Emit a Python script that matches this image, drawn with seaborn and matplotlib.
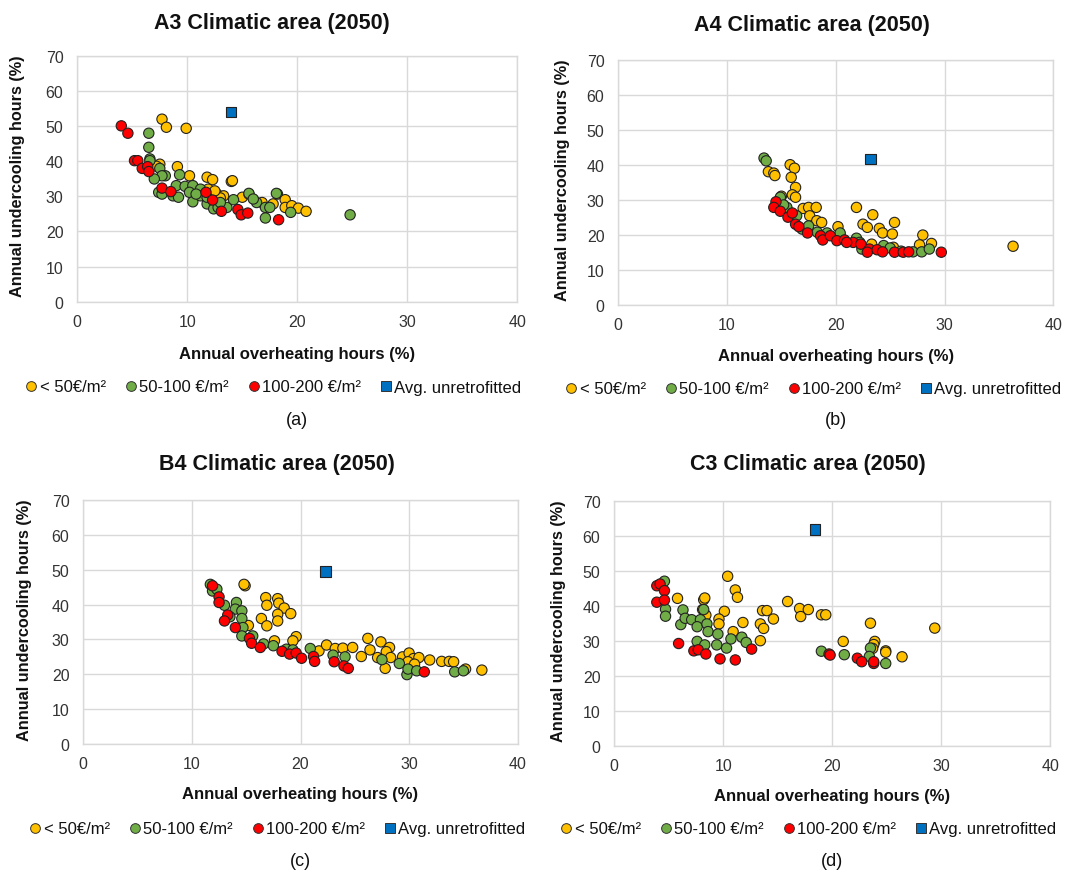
import numpy as np
import pandas as pd
import matplotlib
matplotlib.use('Agg')
import matplotlib.pyplot as plt
import seaborn as sns
from matplotlib.lines import Line2D

# ---- data: (overheating %, undercooling %) ----
A3_LOW = [(7.7, 51.9), (8.1, 49.6), (9.9, 49.3), (7.5, 39.1), (9.1, 38.4), (10.2, 35.8), (11.8, 35.4),
          (12.3, 34.7), (14.0, 34.2), (14.1, 34.4), (15.0, 29.7), (15.6, 30.6), (18.2, 30.6), (18.9, 29.0),
          (16.8, 28.2), (17.8, 27.8), (18.9, 26.8), (19.5, 27.3), (20.1, 26.6), (20.8, 25.7), (12.7, 30.6),
          (13.3, 30.1), (11.9, 32.0), (13.0, 29.5), (7.2, 38.5), (12.5, 31.5)]
A3_MID = [(6.5, 47.9), (6.5, 43.9), (6.6, 40.6), (6.6, 40.1), (7.5, 37.9), (8.0, 35.8), (7.7, 35.8),
          (7.0, 34.9), (9.3, 36.1), (7.4, 31.1), (7.7, 30.6), (9.0, 33.0), (9.8, 32.8), (10.5, 33.0),
          (10.2, 31.1), (11.2, 32.0), (8.7, 30.1), (9.2, 29.7), (10.5, 28.4), (11.2, 30.1), (11.8, 27.8),
          (12.4, 26.4), (12.8, 26.8), (13.6, 26.8), (14.2, 29.0), (15.6, 30.8), (16.3, 28.2), (16.0, 29.2),
          (17.1, 26.8), (17.5, 26.8), (17.1, 23.8), (18.1, 30.8), (19.4, 25.4), (24.8, 24.7), (11.8, 29.7),
          (10.8, 30.6), (13.0, 28.2)]
A3_HIGH = [(4.0, 50.0), (4.6, 47.9), (5.2, 40.1), (5.5, 40.1), (5.9, 37.9), (6.4, 38.4), (6.5, 37.0),
           (7.7, 32.3), (8.5, 31.3), (11.7, 31.1), (12.3, 28.9), (13.1, 25.7), (14.6, 26.2), (14.9, 24.7),
           (15.5, 25.2), (18.3, 23.3)]
A3_AVG = [(14.0, 54.0)]

A4_LOW = [(13.8, 38.0), (14.3, 37.6), (14.4, 36.9), (15.8, 40.0), (16.2, 39.0), (15.9, 36.4), (16.3, 33.5),
          (16.0, 31.4), (16.3, 30.7), (15.0, 31.0), (17.0, 27.5), (17.5, 27.8), (18.2, 27.8), (17.6, 25.4),
          (18.25, 24.0), (18.7, 23.5), (20.2, 22.3), (21.9, 27.8), (23.4, 25.7), (22.5, 23.0), (22.9, 22.1),
          (24.0, 21.8), (24.3, 20.5), (25.2, 20.2), (25.4, 23.5), (28.0, 19.9), (27.7, 17.1), (28.8, 17.5),
          (36.3, 16.7), (20.4, 19.7), (23.3, 17.3), (25.3, 16.4)]
A4_MID = [(13.4, 41.9), (13.6, 41.1), (14.9, 30.7), (15.5, 27.8), (16.4, 25.4), (16.9, 21.6), (18.3, 20.7),
          (19.2, 20.5), (20.4, 20.5), (21.9, 19.0), (22.4, 15.9), (24.4, 16.9), (27.1, 15.1), (27.9, 15.1),
          (28.6, 15.9), (22.2, 17.8), (15.2, 28.5), (17.5, 22.5), (25.0, 16.2), (26.0, 15.3)]
A4_HIGH = [(14.5, 29.4), (14.3, 27.8), (14.9, 26.7), (15.6, 25.0), (16.0, 26.2), (16.3, 23.0), (16.6, 22.3),
           (17.4, 20.5), (18.6, 19.7), (18.8, 18.5), (19.5, 19.7), (20.1, 18.3), (20.8, 18.5), (21.6, 17.8),
           (22.3, 17.3), (23.1, 15.9), (22.9, 15.0), (23.8, 15.7), (24.3, 15.1), (25.4, 15.0), (26.2, 15.0),
           (26.7, 15.1), (29.7, 15.0), (21.0, 17.8)]
A4_AVG = [(23.2, 41.6)]

B4_LOW = [(14.9, 45.4), (14.8, 45.8), (16.8, 42.0), (16.9, 39.8), (16.4, 36.0), (16.9, 33.9), (17.9, 41.7),
          (18.0, 40.4), (18.5, 39.0), (19.1, 37.4), (17.9, 37.2), (17.9, 35.3), (19.6, 30.8), (19.3, 29.6),
          (17.6, 29.6), (21.7, 26.7), (22.4, 28.4), (23.2, 27.4), (23.9, 27.5), (24.8, 27.7), (25.6, 25.1),
          (26.2, 30.3), (26.4, 27.0), (27.4, 29.3), (28.2, 27.7), (27.9, 26.5), (28.3, 24.8), (27.8, 21.7),
          (29.4, 25.0), (30.0, 26.1), (30.4, 24.5), (30.9, 24.8), (31.9, 24.1), (33.0, 23.7), (33.7, 23.7),
          (34.1, 23.6), (36.7, 21.2), (29.9, 23.6), (30.5, 22.9), (27.1, 24.8), (15.2, 34.0), (35.2, 21.5)]
B4_MID = [(11.7, 45.8), (11.9, 43.9), (12.3, 44.4), (13.0, 39.8), (14.1, 40.6), (14.0, 38.7), (14.6, 38.2),
          (14.6, 36.0), (14.7, 33.4), (14.6, 31.0), (15.6, 31.0), (16.6, 28.7), (17.5, 28.2), (18.7, 27.2),
          (19.3, 27.0), (20.9, 27.4), (23.0, 25.5), (24.1, 25.0), (27.5, 24.2), (29.1, 23.1), (29.8, 19.9),
          (29.9, 21.5), (30.7, 21.0), (34.2, 20.7), (35.0, 21.0), (13.5, 36.5)]
B4_HIGH = [(11.9, 45.4), (12.5, 42.2), (12.5, 40.6), (13.3, 37.0), (13.0, 35.3), (14.0, 33.4), (15.3, 30.3),
           (15.5, 28.9), (16.3, 27.7), (18.3, 26.6), (19.0, 25.8), (19.6, 26.1), (20.1, 24.6), (21.2, 25.1),
           (21.3, 23.7), (23.1, 23.6), (24.0, 22.4), (24.4, 21.7), (31.4, 20.7)]
B4_AVG = [(22.3, 49.5)]

C3_LOW = [(10.4, 48.4), (11.1, 44.5), (11.3, 42.4), (5.8, 42.1), (8.2, 41.7), (8.3, 42.2), (8.1, 38.9),
          (8.4, 37.3), (10.1, 38.4), (9.6, 36.2), (9.6, 34.8), (11.8, 35.2), (10.9, 32.6), (13.4, 34.8),
          (13.7, 33.5), (13.6, 38.6), (14.0, 38.6), (14.6, 36.2), (15.9, 41.2), (17.0, 39.2), (17.1, 36.9),
          (17.8, 38.9), (19.0, 37.4), (19.4, 37.4), (13.4, 30.0), (21.0, 29.8), (23.5, 35.0), (23.9, 29.8),
          (23.8, 28.9), (23.7, 27.8), (24.9, 27.1), (24.9, 26.7), (26.4, 25.4), (29.4, 33.6)]
C3_MID = [(4.6, 47.0), (4.7, 39.0), (4.7, 37.0), (6.3, 38.8), (6.1, 34.6), (6.5, 36.4), (7.1, 36.0),
          (7.9, 36.0), (7.6, 34.0), (8.5, 34.8), (8.6, 32.6), (9.5, 31.9), (7.6, 29.8), (8.3, 28.8),
          (9.4, 28.8), (10.3, 27.9), (10.7, 30.5), (11.7, 31.0), (12.1, 29.5), (19.0, 27.0), (21.1, 26.0),
          (23.5, 27.9), (23.4, 25.5), (24.9, 23.5), (8.2, 38.9)]
C3_HIGH = [(3.9, 45.7), (4.2, 46.2), (4.6, 44.3), (3.9, 41.0), (4.6, 41.6), (5.9, 29.2), (7.3, 27.1),
           (7.7, 27.4), (8.4, 26.2), (9.7, 24.8), (11.1, 24.5), (12.6, 27.6), (19.7, 26.2), (19.8, 25.9),
           (22.3, 25.0), (22.7, 24.0), (23.8, 23.5), (23.8, 24.0)]
C3_AVG = [(18.4, 61.8)]

GROUPS = ['< 50€/m²', '50-100 €/m²', '100-200 €/m²', 'Avg. unretrofitted']
COLORS = ['#FFC000', '#70AD47', '#FF0000', '#0070C0']
MARKERS = ['o', 'o', 'o', 's']

W, H = 1065, 879

# layout in pixels: axes (left, right, top, bottom), title, xlabel, legend, tag centres, ylabel
panels = [
    dict(title='A3 Climatic area (2050)', tag='(a)', data=[A3_LOW, A3_MID, A3_HIGH, A3_AVG],
         box=(77.3, 517.3, 56.5, 302.7), title_xy=(272, 24), xlab_y=354, leg_xy=(273, 388), tag_y=421,
         ylab_xy=(18, 176)),
    dict(title='A4 Climatic area (2050)', tag='(b)', data=[A4_LOW, A4_MID, A4_HIGH, A4_AVG],
         box=(618.3, 1053.3, 60.7, 305.7), title_xy=(812, 26), xlab_y=356, leg_xy=(813, 390), tag_y=421,
         ylab_xy=(562, 180)),
    dict(title='B4 Climatic area (2050)', tag='(c)', data=[B4_LOW, B4_MID, B4_HIGH, B4_AVG],
         box=(83.3, 517.7, 501.0, 745.0), title_xy=(277, 465), xlab_y=795, leg_xy=(277, 830), tag_y=862,
         ylab_xy=(25, 620)),
    dict(title='C3 Climatic area (2050)', tag='(d)', data=[C3_LOW, C3_MID, C3_HIGH, C3_AVG],
         box=(614.3, 1050.3, 501.7, 746.7), title_xy=(808, 465), xlab_y=797, leg_xy=(808, 830), tag_y=862,
         ylab_xy=(558, 621)),
]

sns.set_style('white')
plt.rcParams['font.family'] = ['Liberation Sans', 'DejaVu Sans']

fig = plt.figure(figsize=(W / 100, H / 100), dpi=100)
palette = dict(zip(GROUPS, COLORS))
marker_map = dict(zip(GROUPS, MARKERS))

for p in panels:
    left, right, top, bottom = p['box']
    ax = fig.add_axes([left / W, 1 - bottom / H, (right - left) / W, (bottom - top) / H])
    frames = []
    for g, pts in zip(GROUPS, p['data']):
        arr = np.array(pts)
        frames.append(pd.DataFrame({'x': arr[:, 0], 'y': arr[:, 1], 'group': g}))
    df = pd.concat(frames, ignore_index=True)
    sns.scatterplot(data=df, x='x', y='y', hue='group', style='group', hue_order=GROUPS,
                    style_order=GROUPS, palette=palette, markers=marker_map, s=55,
                    edgecolor='#222222', linewidth=0.8, legend=False, ax=ax, zorder=3)
    ax.set_xlim(0, 40)
    ax.set_ylim(0, 70)
    ax.set_xticks(range(0, 41, 10))
    ax.set_yticks(range(0, 71, 10))
    ax.grid(True, color='#D9D9D9', linewidth=1)
    ax.set_axisbelow(True)
    for s in ax.spines.values():
        s.set_color('#D9D9D9')
        s.set_linewidth(1)
    ax.tick_params(length=0, labelsize=11.5, labelcolor='#333333')
    ax.tick_params(axis='y', pad=10)
    ax.tick_params(axis='x', pad=9)
    ax.set_xlabel('')
    ax.set_ylabel('')

    cx = (left + right) / 2
    fig.text(p['title_xy'][0] / W, 1 - p['title_xy'][1] / H, p['title'], ha='center', va='center',
             fontsize=15.5, fontweight='bold', color='#111111')
    fig.text(cx / W, 1 - p['xlab_y'] / H, 'Annual overheating hours (%)', ha='center', va='center',
             fontsize=12, fontweight='bold', color='#111111')
    fig.text(p['ylab_xy'][0] / W, 1 - p['ylab_xy'][1] / H, 'Annual undercooling hours (%)', ha='center',
             va='center', rotation=90, fontsize=11.7, fontweight='bold', color='#111111')
    fig.text(cx / W, 1 - p['tag_y'] / H, p['tag'], ha='center', va='center', fontsize=13, color='#111111')

    handles = [Line2D([], [], linestyle='', marker=m, markersize=7 if m == 'o' else 7.5,
                      markerfacecolor=c, markeredgecolor='#333333', markeredgewidth=0.7)
               for c, m in zip(COLORS, MARKERS)]
    fig.legend(handles, GROUPS, loc='center', bbox_to_anchor=(p['leg_xy'][0] / W, 1 - p['leg_xy'][1] / H),
               ncol=4, frameon=False, fontsize=12, handletextpad=0.1, columnspacing=1.1,
               handlelength=0.8, borderaxespad=0, labelcolor='#111111')

fig.savefig('out.png', dpi=100)
